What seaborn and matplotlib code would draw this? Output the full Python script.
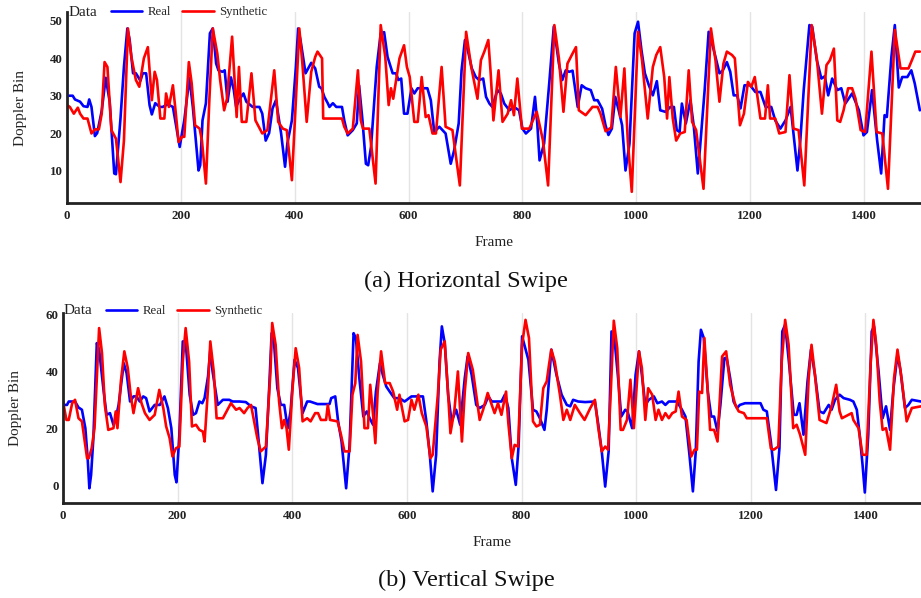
import numpy as np
import pandas as pd
import matplotlib
matplotlib.use("Agg")
import matplotlib.pyplot as plt
from matplotlib.lines import Line2D
import seaborn as sns

# --------------------------- DATA (frame, doppler bin) ---------------------------

top_real = [(0, 32), (10, 32), (14, 31), (23, 30.4), (29, 29.2), (36, 29), (39, 31), (43, 29), (49, 21.2), (53, 22),
            (61, 28), (68, 36.8), (75, 30.4), (83, 11.2), (86, 11), (94, 26), (100, 39.7), (106, 50), (110, 47), (116, 38),
            (121, 38), (129, 36), (133, 38), (139, 38), (145, 29.5), (149, 27), (155, 30), (163, 29), (168, 29), (177, 29.7),
            (186, 29), (192, 23.7), (198, 18.3), (202, 22), (206, 25.4), (215, 36.8), (221, 29), (231, 12), (234, 13.4), (238, 25.4),
            (244, 30), (251, 48.7), (256, 50), (262, 40.6), (266, 38.8), (273, 38.4), (277, 38.8), (282, 30.4), (288, 36.9), (293, 33.5),
            (297, 29), (304, 31.3), (310, 32.6), (315, 30.4), (326, 29), (338, 29), (343, 27.2), (349, 20), (355, 22), (361, 28.6),
            (367, 30.8), (376, 22), (383, 13), (387, 19.2), (395, 25.4), (402, 39.7), (406, 50), (410, 47), (419, 38), (429, 40.8),
            (436, 39.3), (443, 34.4), (447, 34), (452, 31.7), (458, 30), (461, 29), (467, 30), (473, 29), (483, 29), (487, 25.4),
            (493, 21.4), (502, 22.8), (509, 24.6), (513, 34.8), (519, 25.4), (525, 13.8), (529, 13.4), (534, 18.3), (544, 39.7), (551, 48.7),
            (557, 49), (563, 42.4), (572, 38), (578, 38), (582, 36.2), (587, 36.6), (592, 27.2), (598, 27.2), (605, 34), (610, 32.6),
            (616, 34), (633, 34), (639, 30.8), (645, 22.3), (654, 23.7), (665, 21.9), (674, 13.8), (680, 17.4), (688, 24.6), (693, 38.8),
            (699, 46.9), (704, 44.2), (711, 39.3), (718, 37), (724, 36.2), (731, 36.6), (736, 31.7), (742, 29.9), (747, 29), (756, 33.5),
            (762, 32.6), (768, 29.9), (777, 28.1), (785, 29), (794, 28.1), (800, 23.2), (806, 21.9), (815, 23.2), (822, 31.7), (826, 24.6),
            (830, 14.7), (838, 19.2), (847, 35.3), (855, 50.5), (864, 40.6), (870, 36.2), (876, 38.8), (882, 38.4), (888, 38.7), (897, 29),
            (904, 34.8), (911, 34), (920, 33.5), (926, 30.8), (932, 30.8), (940, 28.5), (946, 24), (951, 21.5), (957, 23.2), (963, 31.7),
            (969, 28.1), (975, 24.1), (981, 12), (988, 19.2), (997, 48.7), (1003, 51.8), (1009, 44.2), (1015, 38), (1022, 34.8), (1029, 32.1),
            (1036, 35.9), (1042, 28.1), (1051, 27.7), (1060, 29), (1066, 29), (1071, 22.8), (1076, 22.3), (1080, 29.9), (1087, 24.6), (1095, 30.8),
            (1101, 23.7), (1108, 11.2), (1112, 18.3), (1120, 33.5), (1127, 49.1), (1133, 46), (1139, 42.4), (1146, 38), (1152, 38.8), (1159, 41),
            (1165, 38.4), (1171, 32.1), (1177, 32.1), (1183, 28.6), (1190, 34.8), (1200, 34.8), (1209, 33), (1218, 33), (1227, 29), (1237, 29),
            (1244, 25.4), (1253, 23.2), (1262, 25.4), (1271, 29), (1276, 21.9), (1283, 12), (1288, 20), (1294, 33.5), (1304, 50.9), (1309, 50.4),
            (1317, 41.5), (1325, 36.6), (1331, 37.2), (1337, 32.1), (1344, 36.6), (1353, 33.5), (1360, 34), (1367, 29.9), (1379, 32.6), (1391, 28.1),
            (1399, 21.4), (1405, 22.3), (1414, 33.5), (1423, 20), (1430, 11.2), (1436, 26.8), (1440, 26.3), (1448, 42.4), (1454, 50.9), (1461, 34.2),
            (1467, 37), (1476, 37), (1483, 38.8), (1489, 35.3), (1498, 28.1)]

top_synth = [(0, 29.5), (5, 29), (12, 27.2), (19, 28.8), (23, 27.2), (29, 25.9), (36, 25.9), (43, 21.9), (49, 23), (56, 23),
             (61, 27.2), (66, 41), (71, 39.7), (78, 22.8), (86, 20.5), (94, 8.9), (100, 20), (107, 50), (113, 42.4), (121, 36.2),
             (127, 34.4), (135, 42), (142, 45), (149, 30.8), (154, 38.4), (158, 36.2), (164, 25.9), (171, 25.9), (174, 32.6), (179, 29),
             (186, 34.8), (190, 29), (196, 19.6), (202, 21), (206, 21), (214, 41), (219, 35.3), (225, 24.1), (233, 23.2), (237, 20),
             (244, 8.5), (250, 30.8), (256, 50), (264, 43.3), (269, 36.2), (276, 28.1), (281, 31.2), (290, 47.8), (298, 26.3), (302, 39.7),
             (307, 25), (315, 25), (324, 38), (331, 25.4), (343, 21.9), (352, 22.8), (364, 38.8), (371, 25), (379, 23.2), (386, 22.8),
             (395, 9.4), (402, 30.8), (408, 50), (413, 41.5), (421, 25), (429, 38.4), (436, 42.4), (440, 43.8), (448, 42), (450, 25.9),
             (483, 25.9), (487, 23.7), (493, 21.9), (502, 23.2), (511, 38.8), (516, 25.4), (520, 23.2), (531, 23.2), (542, 8.5), (551, 50.9),
             (559, 42.4), (565, 29.5), (569, 34), (573, 31.2), (584, 42), (592, 45.5), (597, 39.7), (602, 37), (610, 25), (616, 25),
             (623, 37), (630, 26.3), (635, 26.8), (642, 21.9), (648, 21.9), (658, 39.7), (665, 23.7), (677, 22.8), (690, 8), (701, 49.1),
             (710, 39.7), (721, 31.2), (727, 41.5), (733, 43.8), (740, 46.9), (744, 38.4), (749, 25.4), (758, 38.8), (765, 25), (774, 27.2),
             (780, 30.8), (785, 26.8), (791, 36.6), (799, 23.2), (812, 23.2), (825, 27.7), (836, 20), (845, 8), (856, 50.9), (864, 42),
             (872, 27.7), (879, 40.6), (888, 43.3), (894, 45), (899, 28.1), (911, 26.8), (923, 29), (932, 29), (937, 27.2), (946, 22.5),
             (956, 23.5), (964, 39.7), (972, 26.3), (979, 39.3), (985, 20), (992, 6.3), (1003, 49.1), (1010, 41.5), (1020, 25.9), (1029, 39.7),
             (1035, 42.9), (1042, 45), (1049, 37), (1054, 25.9), (1058, 37), (1064, 25.9), (1070, 20), (1077, 21.9), (1085, 22.3), (1092, 38.8),
             (1098, 25), (1105, 22.8), (1118, 7.1), (1131, 50), (1139, 41.5), (1146, 30.4), (1153, 40.6), (1159, 43.8), (1168, 42.9), (1173, 42),
             (1182, 24.1), (1189, 27.2), (1196, 35.7), (1202, 34.4), (1208, 37), (1218, 25.9), (1226, 25.9), (1231, 34.8), (1235, 25.9), (1244, 25.9),
             (1251, 21.9), (1262, 22.3), (1269, 37.5), (1276, 23.2), (1285, 22.8), (1295, 8), (1308, 50.9), (1317, 42), (1326, 27.2), (1334, 40.2),
             (1340, 41.5), (1347, 44.6), (1353, 25.4), (1358, 25), (1364, 28.1), (1372, 34), (1379, 34), (1385, 31.2), (1394, 22.8), (1402, 22.3),
             (1413, 43.8), (1422, 22.3), (1432, 21.9), (1442, 7.1), (1454, 49.6), (1464, 39.3), (1478, 39.3), (1484, 41.5), (1490, 43.8), (1498, 43.8)]

bot_real = [(0, 30.9), (7, 30.9), (10, 32.1), (21, 32.1), (27, 30), (33, 29.2), (39, 22.7), (43, 12.1), (46, 1.5), (49, 6.2),
            (53, 19.2), (59, 52.7), (63, 50.4), (71, 35.6), (76, 27.4), (82, 28), (88, 23.9), (91, 25.1), (97, 30.9), (106, 45.6),
            (111, 42.1), (117, 32.1), (123, 33.9), (128, 33.9), (134, 32.1), (140, 33.9), (145, 33.3), (151, 28.6), (160, 30.9), (169, 30.9),
            (177, 33.9), (183, 29.8), (189, 22.7), (195, 6.2), (198, 3.6), (203, 20.4), (209, 53.3), (214, 53.3), (221, 34.5), (227, 27.4),
            (232, 28), (238, 32.1), (243, 31.5), (247, 33.3), (253, 40.9), (257, 50.4), (261, 42.7), (270, 30.9), (279, 32.7), (290, 32.7),
            (296, 32.1), (308, 32.1), (319, 31.9), (328, 30.4), (336, 29.8), (342, 16.8), (348, 3.3), (354, 13.3), (360, 38), (364, 56.2),
            (368, 53.3), (374, 36.8), (380, 30.9), (386, 30.9), (392, 22.7), (397, 28.6), (404, 46.8), (410, 43.9), (418, 28), (426, 32.1),
            (431, 32.1), (444, 31.2), (465, 31.2), (468, 33.3), (475, 33.9), (480, 25.1), (486, 18), (494, 1.5), (500, 16.8), (507, 56.2),
            (511, 54.5), (517, 40.4), (524, 26.8), (530, 28.6), (535, 26.2), (541, 23.9), (546, 35.6), (553, 45.6), (558, 41.5), (564, 37.4),
            (570, 35.6), (578, 33.3), (587, 33.3), (596, 32.1), (608, 33.9), (628, 33.9), (634, 25.1), (640, 13.3), (645, 0.4), (651, 13.3),
            (657, 46.2), (661, 58.6), (666, 52.7), (672, 34.5), (678, 25.1), (686, 29.2), (693, 23.9), (701, 40.4), (706, 48), (713, 41.5),
            (721, 30.9), (727, 29.8), (736, 30.9), (742, 33.9), (748, 32.1), (765, 32.1), (771, 34.5), (777, 29.8), (783, 12.1), (790, 2.7),
            (795, 16.8), (801, 55.1), (812, 46.8), (820, 29.2), (826, 28.6), (832, 26.2), (840, 22.1), (844, 29.2), (852, 50.4), (861, 41.5),
            (870, 34.5), (879, 30.9), (885, 30.4), (890, 32.7), (899, 32.1), (911, 31.9), (928, 32.1), (934, 23.9), (940, 14.5), (946, 2.1),
            (952, 14.5), (957, 56.8), (962, 54.5), (968, 41.5), (974, 26.8), (981, 29.2), (985, 28.6), (993, 22.7), (999, 41.5), (1005, 49.8),
            (1010, 41.5), (1016, 30.9), (1022, 32.7), (1031, 33.9), (1037, 31.5), (1045, 32.1), (1051, 30.9), (1057, 32.1), (1071, 32.1), (1080, 29.2),
            (1086, 26.8), (1093, 13.3), (1099, 0.4), (1104, 14.5), (1109, 46.2), (1113, 57.4), (1118, 54.5), (1125, 35.6), (1131, 26.8), (1136, 26.8),
            (1142, 21.5), (1147, 30.9), (1154, 47.4), (1158, 47.4), (1164, 40.4), (1170, 32.1), (1176, 29.8), (1181, 30.9), (1190, 31.5), (1217, 31.5),
            (1222, 29.2), (1228, 28.6), (1235, 18), (1240, 8.6), (1244, 0.9), (1250, 15.6), (1255, 56.8), (1260, 59.2), (1267, 45.1), (1275, 27.4),
            (1280, 27.4), (1285, 31.5), (1292, 20.4), (1299, 39.2), (1305, 50.4), (1312, 41.5), (1320, 28.6), (1327, 28), (1336, 30.9), (1341, 29.2),
            (1347, 32.7), (1355, 34.5), (1362, 33.3), (1373, 32.7), (1379, 32.1), (1385, 29.2), (1390, 20.4), (1395, 9.8), (1399, 0), (1405, 20.4),
            (1411, 56.8), (1415, 58.6), (1423, 42.7), (1430, 26.2), (1436, 30.4), (1443, 22.1), (1449, 36.8), (1456, 48.6), (1461, 43.3), (1469, 29.8),
            (1475, 30.9), (1481, 32.7), (1497, 32.1)]

bot_synth = [(0, 32.1), (6, 25.6), (10, 25.6), (16, 31.5), (21, 32.7), (27, 26.2), (33, 25.1), (42, 12.1), (45, 12.1), (50, 15.6),
             (55, 22.7), (63, 58), (68, 49.2), (73, 30.9), (79, 22.1), (88, 22.7), (92, 28.6), (95, 22.7), (101, 39.2), (107, 49.8),
             (113, 43.9), (118, 34.5), (123, 28), (131, 36.8), (137, 31.5), (143, 28), (151, 25.6), (160, 27.4), (168, 36.2), (175, 29.8),
             (180, 23.3), (186, 19.2), (191, 12.7), (197, 15.6), (203, 16.2), (209, 46.2), (214, 58), (220, 46.2), (225, 23.3), (232, 23.9),
             (238, 22.1), (244, 21.5), (247, 18), (253, 36.8), (257, 53.3), (263, 42.7), (268, 26.2), (279, 26.2), (287, 29.2), (293, 31.5),
             (302, 29.2), (308, 29.8), (316, 28), (322, 29.8), (328, 30.9), (334, 24.5), (339, 19.2), (345, 14.5), (354, 16.2), (362, 42.7),
             (365, 59.8), (371, 52.1), (377, 32.1), (382, 22.7), (386, 25.6), (390, 22.7), (394, 15.1), (400, 35.6), (406, 50.9), (412, 43.9),
             (418, 25.1), (426, 26.2), (432, 25.1), (440, 28), (445, 28), (450, 25.6), (459, 25.6), (462, 30.9), (466, 25.6), (479, 25.1),
             (485, 20.4), (491, 14.5), (500, 14.5), (505, 34.5), (510, 38.6), (514, 55.6), (520, 46.2), (526, 22.7), (532, 22.7), (536, 38),
             (541, 27.4), (545, 17.4), (549, 35.6), (555, 49.8), (562, 38.6), (570, 38.6), (576, 35.6), (583, 29.2), (587, 34.5), (596, 25.1),
             (602, 25.6), (608, 32.7), (613, 29.2), (620, 34.5), (626, 28), (634, 23.3), (641, 12.1), (645, 13.3), (654, 34.5), (659, 50.4),
             (666, 53.3), (672, 34.5), (676, 20.9), (683, 29.2), (689, 42.7), (696, 18), (701, 35.6), (707, 49.2), (715, 43.3), (721, 34.5),
             (727, 25.6), (733, 29.2), (741, 35.1), (748, 30.9), (753, 28), (759, 31.5), (765, 27.4), (773, 35.6), (777, 24.5), (783, 12.1),
             (788, 16.8), (794, 16.2), (801, 52.1), (807, 60.9), (813, 54.5), (820, 25.1), (826, 23.3), (832, 23.9), (838, 36.8), (844, 39.2),
             (848, 45.1), (852, 50.4), (858, 46.2), (867, 34.5), (873, 25.6), (879, 29.2), (885, 25.6), (893, 30.9), (902, 28), (910, 25.6),
             (920, 29.8), (928, 32.7), (934, 22.7), (940, 14.5), (946, 16.2), (951, 15.1), (956, 36.8), (961, 60.6), (967, 50.9), (973, 22.1),
             (977, 22.1), (984, 25.6), (990, 39.8), (996, 22.7), (1000, 34.5), (1005, 49.8), (1010, 43.9), (1016, 25.6), (1021, 36.8), (1028, 34.5),
             (1034, 25.6), (1039, 29.2), (1045, 25.6), (1051, 28), (1057, 26.2), (1063, 28), (1069, 28.6), (1074, 35.6), (1080, 26.8), (1088, 25.6),
             (1096, 12.7), (1102, 15.1), (1106, 15.1), (1110, 35.6), (1115, 35.1), (1119, 54.5), (1125, 35.6), (1129, 22.1), (1136, 22.1), (1142, 18),
             (1150, 48), (1157, 49.8), (1164, 38), (1173, 30.9), (1179, 28.6), (1188, 28), (1193, 26.2), (1228, 26.2), (1235, 15.6), (1240, 15.1),
             (1248, 16.2), (1254, 46.2), (1260, 60.9), (1266, 52.1), (1274, 22.7), (1280, 23.9), (1286, 20.4), (1295, 13.3), (1301, 40.4), (1306, 52.1),
             (1312, 41.5), (1320, 25.6), (1332, 24.5), (1341, 30.4), (1349, 38), (1355, 28.6), (1359, 26.2), (1376, 28), (1379, 25.6), (1388, 22.7),
             (1395, 13.3), (1402, 13.3), (1409, 45.1), (1414, 60.9), (1419, 52.1), (1425, 32.1), (1430, 22.1), (1436, 22.7), (1443, 15.1), (1450, 40.4),
             (1456, 50.4), (1463, 40.4), (1472, 25.1), (1481, 29.8), (1497, 30.4)]

x_ticks = [0, 200, 400, 600, 800, 1000, 1200, 1400]
top_y_ticks = [10, 20, 30, 40, 50]
bot_y_ticks = [0, 20, 40, 60]
series_names = ["Real", "Synthetic"]
captions = ["(a) Horizontal Swipe", "(b) Vertical Swipe"]

# --------------------------- SETUP ---------------------------

def to_long(real, synth):
    parts = []
    for name, pairs in zip(series_names, [real, synth]):
        arr = np.array(pairs, dtype=float)
        parts.append(pd.DataFrame({"Frame": arr[:, 0], "Doppler Bin": arr[:, 1], "Data": name}))
    return pd.concat(parts, ignore_index=True)

sns.set_style("white")
plt.rcParams["font.family"] = ["Liberation Serif", "DejaVu Serif"]

palette = {"Real": "#0000ff", "Synthetic": "#ff0000"}

fig = plt.figure(figsize=(9.21, 5.98), dpi=100)
ax_top = fig.add_axes([67 / 921, 1 - 203 / 598, 1 - 67 / 921, 191 / 598])
ax_bot = fig.add_axes([63 / 921, 1 - 503 / 598, 1 - 63 / 921, 190.5 / 598])


def draw_panel(ax, df, yticks, ylim, xlim, caption, cap_y, leg_x, leg_y, data_x):
    sns.lineplot(data=df, x="Frame", y="Doppler Bin", hue="Data", hue_order=series_names,
                 palette=palette, estimator=None, sort=False, linewidth=1.9, ax=ax, legend=False)
    ax.set_xlim(*xlim)
    ax.set_ylim(*ylim)
    ax.set_xticks(x_ticks)
    ax.set_yticks(yticks)
    ax.grid(axis="x", color="#e4e4e4", linewidth=1)
    ax.grid(axis="y", visible=False)
    ax.set_axisbelow(True)
    for side in ["top", "right"]:
        ax.spines[side].set_visible(False)
    for side in ["left", "bottom"]:
        ax.spines[side].set_color("#222222")
        ax.spines[side].set_linewidth(2)
    ax.tick_params(axis="x", direction="in", length=7, width=1.2, color="#555555", pad=5, labelsize=9.3)
    ax.tick_params(axis="y", direction="in", length=4, width=1, color="#777777", pad=3, labelsize=9.3)
    plt.setp(ax.get_xticklabels(), fontweight="bold", color="#222222")
    plt.setp(ax.get_yticklabels(), fontweight="bold", color="#222222", va="bottom")
    ax.set_xlabel("Frame", fontsize=11, color="#222222")
    ax.xaxis.set_label_coords(0.5, -0.205)
    ax.xaxis.label.set_va("center")
    ax.set_ylabel("Doppler Bin", fontsize=11, color="#222222")
    ax.yaxis.set_label_coords(-0.055, 0.5)
    ax.yaxis.label.set_va("center")

    handles = [Line2D([], [], color=palette[n], linewidth=1.9) for n in series_names]
    fig.legend(handles, series_names, loc="center left", bbox_to_anchor=(leg_x, leg_y),
               ncol=2, frameon=False, fontsize=9.2, borderpad=0, borderaxespad=0,
               handlelength=2.45, handletextpad=0.45, columnspacing=0.85)
    fig.text(data_x, leg_y, "Data", fontsize=11, ha="left", va="center", color="#222222")
    fig.text(466 / 921, cap_y, caption, fontsize=17.5, ha="center", va="center", color="#111111")


draw_panel(ax_top, to_long(top_real, top_synth), top_y_ticks, (3.3, 54.4), (0, 1500),
           captions[0], 1 - 281 / 598, 111 / 921, 1 - 12 / 598, 69 / 921)
draw_panel(ax_bot, to_long(bot_real, bot_synth), bot_y_ticks, (-3.7, 63.5), (0, 1497),
           captions[1], 1 - 580 / 598, 106 / 921, 1 - 311 / 598, 64 / 921)

fig.savefig("out.png", dpi=100)
